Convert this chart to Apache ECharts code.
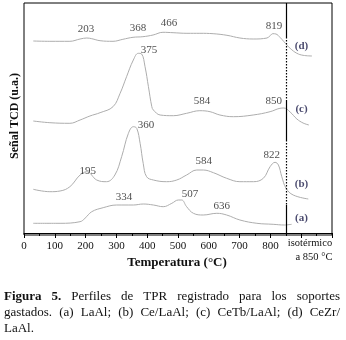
<!DOCTYPE html>
<html><head><meta charset="utf-8">
<script src="https://cdn.jsdelivr.net/npm/echarts@6/dist/echarts.min.js"></script>
<style>html,body{margin:0;padding:0;background:#fff}#c{width:346px;height:340px}</style>
</head><body><div id="c"></div>
<script>
// Temperature (°C) values, then isothermal continuation beyond 850
const curveA = [[30,9.7],[117,9.7],[182,11.3],[198,14.7],[220,21.3],[257,25.3],[301,28],[355,28],[387,29],[420,28],[452,26.3],[480,29.7],[501,33],[512,33],[528,26.3],[550,19.7],[582,18],[626,19.7],[658,18],[701,13],[756,9.7],[809,8.7],[845,8],[869,8.7]];
const curveB = [[30,43.7],[84,41.3],[117,42],[149,46.3],[182,58],[204,61.3],[236,53],[268,51.3],[295,58],[317,76.3],[339,99.7],[355,106.3],[366,104.7],[377,89.7],[387,69.7],[398,56.3],[420,53],[463,51.3],[496,53],[528,58],[561,63],[582,63],[615,60.3],[658,54.7],[701,51.3],[745,51.3],[777,54.7],[799,66.3],[815,70.7],[826,68],[837,56.3],[851,44.7],[874,38],[923,34]];
const curveC = [[30,112],[84,110.3],[149,109.7],[182,113],[214,117],[247,120.3],[289,126.3],[312,139.7],[333,156.3],[355,173],[371,179.7],[382,179],[393,166.3],[404,146.3],[415,126.3],[420,123],[442,118],[485,117.3],[528,119.7],[571,122.3],[604,121.3],[636,118],[680,116.3],[744,118],[799,121.3],[831,124.7],[844,125],[864,121],[886,114],[906,110],[925,108]];
const curveD = [[30,192],[84,191.7],[149,191.7],[182,194],[204,195],[220,194.3],[247,192.3],[289,191.7],[321,193.7],[354,195.7],[386,196.3],[419,198],[451,200.7],[484,200.3],[529,199.7],[571,199.7],[614,199.3],[659,197.7],[701,195],[744,194],[789,195],[799,197.3],[808,199.3],[818,199],[831,195.7],[844,191.3],[864,184.7],[886,179.7],[906,177.7],[935,177]];
// peak annotations: text, x (°C), y (signal)
const peakLabels = [
  ['203',201,204],['368',370,205],['466',471,210],['819',812,207],
  ['375',406,183],['584',578,132],['850',811,132],
  ['360',396,108],['195',207,62],['584',584,72],['822',804,78],
  ['334',325,36],['507',539,39],['636',642,27]
];
const seriesTags = [['(d)',901,187],['(c)',901,124],['(b)',901,49],['(a)',901,15]];
const xTickLabels = [0,100,200,300,400,500,600,700,800];
const captionLines = [
  [['Figura',1],['5.',1],['Perfiles',0],['de',0],['TPR',0],['registrado',0],['para',0],['los',0],['soportes',0]],
  [['gastados.',0],['(a)',0],['LaAl;',0],['(b)',0],['Ce/LaAl;',0],['(c)',0],['CeTb/LaAl;',0],['(d)',0],['CeZr/',0]],
  [['LaAl.',0]]
];

const serif = "'Liberation Serif','DejaVu Serif',serif";
const chart = echarts.init(document.getElementById('c'));
const lineColor = '#adadad';
function lineSeries(d){return {type:'line',data:d,showSymbol:false,smooth:0.4,lineStyle:{color:lineColor,width:1},silent:true,z:2};}

const seg = (y1,y2,dotted)=>[{coord:[850,y1],lineStyle:{type:dotted?[1.5,1.5]:'solid',color:'#000',width:1.2}},{coord:[850,y2]}];

// caption layout (justified)
const cv = document.createElement('canvas').getContext('2d');
const capSize = 13, capLeft = 4, capRight = 340, capY = [297,313,329];
const graphics = [];
captionLines.forEach((words,li)=>{
  const widths = words.map(w=>{cv.font=(w[1]?'bold ':'')+capSize+'px '+serif;return cv.measureText(w[0]).width;});
  const total = widths.reduce((a,b)=>a+b,0);
  const justify = li < captionLines.length-1;
  const gap = justify ? (capRight-capLeft-total)/(words.length-1) : capSize*0.25;
  let x = capLeft;
  words.forEach((w,i)=>{
    graphics.push({type:'text',x:x,y:capY[li],style:{text:w[0],font:(w[1]?'bold ':'')+capSize+'px '+serif,fill:'#111',verticalAlign:'middle'}});
    x += widths[i]+gap;
  });
});
graphics.push({type:'text',x:15,y:116,rotation:Math.PI/2,style:{text:'Señal TCD (u.a.)',font:'bold 12px '+serif,fill:'#111',align:'center',verticalAlign:'middle'}});
graphics.push({type:'text',x:177,y:263,style:{text:'Temperatura (°C)',font:'bold 13px '+serif,fill:'#111',align:'center',verticalAlign:'middle'}});
graphics.push({type:'text',x:310,y:243,style:{text:'isotérmico',font:'10.5px '+serif,fill:'#111',align:'center',verticalAlign:'middle'}});
graphics.push({type:'text',x:314,y:257,style:{text:'a 850 °C',font:'10.5px '+serif,fill:'#111',align:'center',verticalAlign:'middle'}});

chart.setOption({
  animation:false,
  grid:{left:24,right:14,top:3,bottom:105,show:true,borderColor:'#000',borderWidth:1},
  xAxis:{type:'value',min:0,max:1000,interval:100,
    axisLine:{show:true,lineStyle:{color:'#000',width:1}},
    axisTick:{show:true,length:5,inside:false,lineStyle:{color:'#000'}},
    minorTick:{show:true,splitNumber:2,length:3,lineStyle:{color:'#000'}},
    splitLine:{show:false},minorSplitLine:{show:false},
    axisLabel:{margin:6,fontFamily:serif,fontSize:11,color:'#111',
      formatter:v=>xTickLabels.indexOf(v)>=0?String(v):''}},
  yAxis:{type:'value',min:-2,max:230,show:true,axisLine:{show:false},axisTick:{show:false},axisLabel:{show:false},splitLine:{show:false}},
  graphic:graphics,
  series:[
    lineSeries(curveA),lineSeries(curveB),lineSeries(curveC),
    Object.assign(lineSeries(curveD),{markLine:{symbol:'none',silent:true,label:{show:false},
      data:[seg(230,196,false),seg(196,133,true),seg(133,93,false),seg(93,28,true),seg(28,-2,false)]}}),
    {type:'scatter',symbolSize:0,silent:true,z:5,data:peakLabels.map(p=>({name:p[0],value:[p[1],p[2]]})),
      label:{show:true,position:'inside',formatter:'{b}',fontFamily:serif,fontSize:11,color:'#1a1a1a'}},
    {type:'scatter',symbolSize:0,silent:true,z:5,data:seriesTags.map(p=>({name:p[0],value:[p[1],p[2]]})),
      label:{show:true,position:'inside',formatter:'{b}',fontFamily:serif,fontSize:11,fontWeight:'bold',color:'#1c1c48'}}
  ]
});
</script></body></html>
